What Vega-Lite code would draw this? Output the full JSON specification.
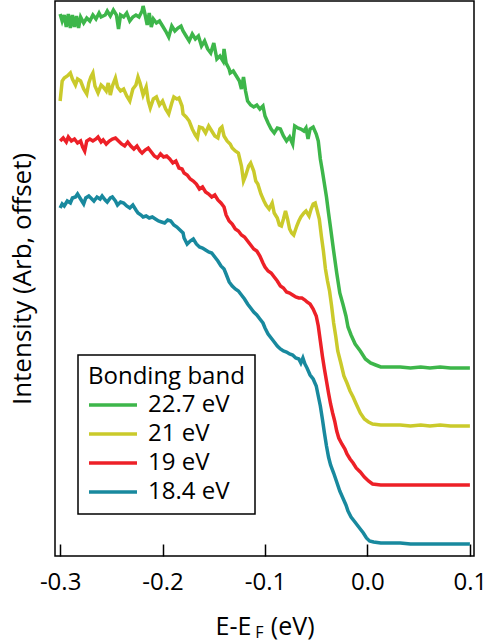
{
"$schema": "https://vega.github.io/schema/vega-lite/v6.json",
"width": 419, "height": 555,
"autosize": {"type": "none"},
"padding": {"left": 55, "top": 1, "right": 11, "bottom": 88},
"config": {"view": {"stroke": "#000", "strokeWidth": 1.5}, "font": "Open Sans"},
"datasets": {
"sub": [{"t": "F", "E": -0.1054, "I": -77}],
"spectra": [
{"band":"22.7 eV","E":-0.300,"I":542},{"band":"22.7 eV","E":-0.298,"I":535},{"band":"22.7 eV","E":-0.296,"I":541},{"band":"22.7 eV","E":-0.294,"I":529},{"band":"22.7 eV","E":-0.292,"I":542},{"band":"22.7 eV","E":-0.290,"I":528},{"band":"22.7 eV","E":-0.288,"I":541},{"band":"22.7 eV","E":-0.286,"I":529},{"band":"22.7 eV","E":-0.284,"I":540},{"band":"22.7 eV","E":-0.282,"I":528},{"band":"22.7 eV","E":-0.280,"I":539},{"band":"22.7 eV","E":-0.277,"I":533},{"band":"22.7 eV","E":-0.274,"I":538},{"band":"22.7 eV","E":-0.271,"I":535},{"band":"22.7 eV","E":-0.268,"I":541},{"band":"22.7 eV","E":-0.265,"I":537},{"band":"22.7 eV","E":-0.262,"I":543},{"band":"22.7 eV","E":-0.260,"I":539},{"band":"22.7 eV","E":-0.256,"I":541},{"band":"22.7 eV","E":-0.254,"I":545},{"band":"22.7 eV","E":-0.251,"I":540},{"band":"22.7 eV","E":-0.248,"I":546},{"band":"22.7 eV","E":-0.245,"I":541},{"band":"22.7 eV","E":-0.243,"I":527},{"band":"22.7 eV","E":-0.241,"I":541},{"band":"22.7 eV","E":-0.238,"I":539},{"band":"22.7 eV","E":-0.235,"I":543},{"band":"22.7 eV","E":-0.232,"I":535},{"band":"22.7 eV","E":-0.229,"I":539},{"band":"22.7 eV","E":-0.226,"I":541},{"band":"22.7 eV","E":-0.223,"I":539},{"band":"22.7 eV","E":-0.220,"I":545},{"band":"22.7 eV","E":-0.219,"I":550},{"band":"22.7 eV","E":-0.217,"I":541},{"band":"22.7 eV","E":-0.215,"I":531},{"band":"22.7 eV","E":-0.213,"I":543},{"band":"22.7 eV","E":-0.211,"I":529},{"band":"22.7 eV","E":-0.209,"I":537},{"band":"22.7 eV","E":-0.206,"I":533},{"band":"22.7 eV","E":-0.203,"I":535},{"band":"22.7 eV","E":-0.200,"I":530},{"band":"22.7 eV","E":-0.197,"I":525},{"band":"22.7 eV","E":-0.194,"I":519},{"band":"22.7 eV","E":-0.191,"I":530},{"band":"22.7 eV","E":-0.188,"I":525},{"band":"22.7 eV","E":-0.185,"I":528},{"band":"22.7 eV","E":-0.182,"I":530},{"band":"22.7 eV","E":-0.180,"I":525},{"band":"22.7 eV","E":-0.177,"I":520},{"band":"22.7 eV","E":-0.174,"I":515},{"band":"22.7 eV","E":-0.171,"I":522},{"band":"22.7 eV","E":-0.168,"I":517},{"band":"22.7 eV","E":-0.165,"I":520},{"band":"22.7 eV","E":-0.162,"I":510},{"band":"22.7 eV","E":-0.159,"I":515},{"band":"22.7 eV","E":-0.156,"I":507},{"band":"22.7 eV","E":-0.153,"I":503},{"band":"22.7 eV","E":-0.150,"I":513},{"band":"22.7 eV","E":-0.147,"I":497},{"band":"22.7 eV","E":-0.144,"I":500},{"band":"22.7 eV","E":-0.141,"I":495},{"band":"22.7 eV","E":-0.140,"I":507},{"band":"22.7 eV","E":-0.138,"I":493},{"band":"22.7 eV","E":-0.135,"I":487},{"band":"22.7 eV","E":-0.134,"I":483},{"band":"22.7 eV","E":-0.131,"I":485},{"band":"22.7 eV","E":-0.128,"I":480},{"band":"22.7 eV","E":-0.125,"I":475},{"band":"22.7 eV","E":-0.123,"I":467},{"band":"22.7 eV","E":-0.121,"I":479},{"band":"22.7 eV","E":-0.119,"I":465},{"band":"22.7 eV","E":-0.117,"I":455},{"band":"22.7 eV","E":-0.114,"I":451},{"band":"22.7 eV","E":-0.111,"I":449},{"band":"22.7 eV","E":-0.108,"I":451},{"band":"22.7 eV","E":-0.105,"I":447},{"band":"22.7 eV","E":-0.102,"I":450},{"band":"22.7 eV","E":-0.100,"I":440},{"band":"22.7 eV","E":-0.097,"I":433},{"band":"22.7 eV","E":-0.094,"I":427},{"band":"22.7 eV","E":-0.091,"I":423},{"band":"22.7 eV","E":-0.088,"I":428},{"band":"22.7 eV","E":-0.085,"I":427},{"band":"22.7 eV","E":-0.082,"I":420},{"band":"22.7 eV","E":-0.079,"I":415},{"band":"22.7 eV","E":-0.076,"I":419},{"band":"22.7 eV","E":-0.073,"I":412},{"band":"22.7 eV","E":-0.071,"I":430},{"band":"22.7 eV","E":-0.068,"I":428},{"band":"22.7 eV","E":-0.065,"I":427},{"band":"22.7 eV","E":-0.062,"I":425},{"band":"22.7 eV","E":-0.060,"I":428},{"band":"22.7 eV","E":-0.058,"I":417},{"band":"22.7 eV","E":-0.056,"I":427},{"band":"22.7 eV","E":-0.053,"I":429},{"band":"22.7 eV","E":-0.050,"I":422},{"band":"22.7 eV","E":-0.048,"I":415},{"band":"22.7 eV","E":-0.046,"I":397},{"band":"22.7 eV","E":-0.044,"I":385},{"band":"22.7 eV","E":-0.042,"I":372},{"band":"22.7 eV","E":-0.040,"I":359},{"band":"22.7 eV","E":-0.038,"I":343},{"band":"22.7 eV","E":-0.036,"I":328},{"band":"22.7 eV","E":-0.033,"I":305},{"band":"22.7 eV","E":-0.030,"I":283},{"band":"22.7 eV","E":-0.027,"I":263},{"band":"22.7 eV","E":-0.024,"I":252},{"band":"22.7 eV","E":-0.021,"I":240},{"band":"22.7 eV","E":-0.019,"I":229},{"band":"22.7 eV","E":-0.016,"I":221},{"band":"22.7 eV","E":-0.012,"I":212},{"band":"22.7 eV","E":-0.007,"I":205},{"band":"22.7 eV","E":-0.002,"I":197},{"band":"22.7 eV","E":0.003,"I":193},{"band":"22.7 eV","E":0.008,"I":191},{"band":"22.7 eV","E":0.013,"I":189},{"band":"22.7 eV","E":0.022,"I":189},{"band":"22.7 eV","E":0.032,"I":189},{"band":"22.7 eV","E":0.042,"I":188},{"band":"22.7 eV","E":0.052,"I":189},{"band":"22.7 eV","E":0.061,"I":188},{"band":"22.7 eV","E":0.071,"I":189},{"band":"22.7 eV","E":0.081,"I":188},{"band":"22.7 eV","E":0.091,"I":188},{"band":"22.7 eV","E":0.100,"I":188},
{"band":"21 eV","E":-0.300,"I":455},{"band":"21 eV","E":-0.298,"I":475},{"band":"21 eV","E":-0.296,"I":478},{"band":"21 eV","E":-0.293,"I":480},{"band":"21 eV","E":-0.290,"I":483},{"band":"21 eV","E":-0.288,"I":477},{"band":"21 eV","E":-0.285,"I":471},{"band":"21 eV","E":-0.283,"I":477},{"band":"21 eV","E":-0.280,"I":475},{"band":"21 eV","E":-0.277,"I":467},{"band":"21 eV","E":-0.274,"I":462},{"band":"21 eV","E":-0.272,"I":473},{"band":"21 eV","E":-0.270,"I":479},{"band":"21 eV","E":-0.268,"I":483},{"band":"21 eV","E":-0.266,"I":470},{"band":"21 eV","E":-0.263,"I":463},{"band":"21 eV","E":-0.260,"I":471},{"band":"21 eV","E":-0.258,"I":469},{"band":"21 eV","E":-0.255,"I":465},{"band":"21 eV","E":-0.253,"I":473},{"band":"21 eV","E":-0.251,"I":461},{"band":"21 eV","E":-0.249,"I":470},{"band":"21 eV","E":-0.246,"I":478},{"band":"21 eV","E":-0.244,"I":469},{"band":"21 eV","E":-0.241,"I":465},{"band":"21 eV","E":-0.238,"I":467},{"band":"21 eV","E":-0.235,"I":460},{"band":"21 eV","E":-0.232,"I":455},{"band":"21 eV","E":-0.229,"I":467},{"band":"21 eV","E":-0.226,"I":471},{"band":"21 eV","E":-0.224,"I":479},{"band":"21 eV","E":-0.222,"I":473},{"band":"21 eV","E":-0.220,"I":465},{"band":"21 eV","E":-0.219,"I":461},{"band":"21 eV","E":-0.216,"I":469},{"band":"21 eV","E":-0.214,"I":455},{"band":"21 eV","E":-0.212,"I":448},{"band":"21 eV","E":-0.209,"I":457},{"band":"21 eV","E":-0.206,"I":459},{"band":"21 eV","E":-0.203,"I":451},{"band":"21 eV","E":-0.200,"I":455},{"band":"21 eV","E":-0.197,"I":447},{"band":"21 eV","E":-0.194,"I":442},{"band":"21 eV","E":-0.191,"I":453},{"band":"21 eV","E":-0.189,"I":459},{"band":"21 eV","E":-0.186,"I":457},{"band":"21 eV","E":-0.184,"I":458},{"band":"21 eV","E":-0.181,"I":450},{"band":"21 eV","E":-0.180,"I":442},{"band":"21 eV","E":-0.177,"I":439},{"band":"21 eV","E":-0.174,"I":435},{"band":"21 eV","E":-0.171,"I":427},{"band":"21 eV","E":-0.168,"I":421},{"band":"21 eV","E":-0.166,"I":418},{"band":"21 eV","E":-0.164,"I":429},{"band":"21 eV","E":-0.161,"I":428},{"band":"21 eV","E":-0.158,"I":423},{"band":"21 eV","E":-0.155,"I":430},{"band":"21 eV","E":-0.152,"I":425},{"band":"21 eV","E":-0.149,"I":420},{"band":"21 eV","E":-0.146,"I":418},{"band":"21 eV","E":-0.144,"I":427},{"band":"21 eV","E":-0.142,"I":429},{"band":"21 eV","E":-0.140,"I":420},{"band":"21 eV","E":-0.137,"I":415},{"band":"21 eV","E":-0.134,"I":412},{"band":"21 eV","E":-0.132,"I":408},{"band":"21 eV","E":-0.129,"I":405},{"band":"21 eV","E":-0.126,"I":403},{"band":"21 eV","E":-0.123,"I":390},{"band":"21 eV","E":-0.121,"I":375},{"band":"21 eV","E":-0.119,"I":380},{"band":"21 eV","E":-0.116,"I":390},{"band":"21 eV","E":-0.114,"I":393},{"band":"21 eV","E":-0.111,"I":385},{"band":"21 eV","E":-0.109,"I":375},{"band":"21 eV","E":-0.107,"I":372},{"band":"21 eV","E":-0.104,"I":362},{"band":"21 eV","E":-0.101,"I":355},{"band":"21 eV","E":-0.099,"I":351},{"band":"21 eV","E":-0.096,"I":347},{"band":"21 eV","E":-0.093,"I":353},{"band":"21 eV","E":-0.091,"I":343},{"band":"21 eV","E":-0.088,"I":338},{"band":"21 eV","E":-0.086,"I":331},{"band":"21 eV","E":-0.084,"I":330},{"band":"21 eV","E":-0.082,"I":337},{"band":"21 eV","E":-0.080,"I":345},{"band":"21 eV","E":-0.078,"I":337},{"band":"21 eV","E":-0.076,"I":327},{"band":"21 eV","E":-0.074,"I":323},{"band":"21 eV","E":-0.072,"I":321},{"band":"21 eV","E":-0.069,"I":330},{"band":"21 eV","E":-0.067,"I":335},{"band":"21 eV","E":-0.065,"I":339},{"band":"21 eV","E":-0.062,"I":343},{"band":"21 eV","E":-0.060,"I":345},{"band":"21 eV","E":-0.057,"I":340},{"band":"21 eV","E":-0.055,"I":347},{"band":"21 eV","E":-0.053,"I":352},{"band":"21 eV","E":-0.051,"I":353},{"band":"21 eV","E":-0.049,"I":345},{"band":"21 eV","E":-0.047,"I":337},{"band":"21 eV","E":-0.045,"I":320},{"band":"21 eV","E":-0.043,"I":305},{"band":"21 eV","E":-0.041,"I":287},{"band":"21 eV","E":-0.039,"I":275},{"band":"21 eV","E":-0.037,"I":265},{"band":"21 eV","E":-0.035,"I":250},{"band":"21 eV","E":-0.033,"I":233},{"band":"21 eV","E":-0.031,"I":220},{"band":"21 eV","E":-0.029,"I":205},{"band":"21 eV","E":-0.026,"I":193},{"band":"21 eV","E":-0.023,"I":180},{"band":"21 eV","E":-0.020,"I":173},{"band":"21 eV","E":-0.017,"I":165},{"band":"21 eV","E":-0.014,"I":159},{"band":"21 eV","E":-0.011,"I":152},{"band":"21 eV","E":-0.007,"I":143},{"band":"21 eV","E":-0.003,"I":137},{"band":"21 eV","E":0.001,"I":134},{"band":"21 eV","E":0.005,"I":132},{"band":"21 eV","E":0.013,"I":131},{"band":"21 eV","E":0.022,"I":131},{"band":"21 eV","E":0.032,"I":131},{"band":"21 eV","E":0.042,"I":130},{"band":"21 eV","E":0.052,"I":131},{"band":"21 eV","E":0.061,"I":130},{"band":"21 eV","E":0.071,"I":131},{"band":"21 eV","E":0.081,"I":130},{"band":"21 eV","E":0.091,"I":130},{"band":"21 eV","E":0.100,"I":130},
{"band":"19 eV","E":-0.300,"I":415},{"band":"19 eV","E":-0.297,"I":418},{"band":"19 eV","E":-0.294,"I":414},{"band":"19 eV","E":-0.292,"I":419},{"band":"19 eV","E":-0.289,"I":415},{"band":"19 eV","E":-0.286,"I":417},{"band":"19 eV","E":-0.283,"I":413},{"band":"19 eV","E":-0.280,"I":415},{"band":"19 eV","E":-0.278,"I":409},{"band":"19 eV","E":-0.276,"I":405},{"band":"19 eV","E":-0.274,"I":415},{"band":"19 eV","E":-0.271,"I":417},{"band":"19 eV","E":-0.268,"I":415},{"band":"19 eV","E":-0.265,"I":417},{"band":"19 eV","E":-0.263,"I":419},{"band":"19 eV","E":-0.260,"I":414},{"band":"19 eV","E":-0.258,"I":416},{"band":"19 eV","E":-0.255,"I":412},{"band":"19 eV","E":-0.252,"I":415},{"band":"19 eV","E":-0.249,"I":417},{"band":"19 eV","E":-0.246,"I":418},{"band":"19 eV","E":-0.243,"I":415},{"band":"19 eV","E":-0.240,"I":412},{"band":"19 eV","E":-0.237,"I":410},{"band":"19 eV","E":-0.234,"I":414},{"band":"19 eV","E":-0.231,"I":410},{"band":"19 eV","E":-0.228,"I":407},{"band":"19 eV","E":-0.225,"I":410},{"band":"19 eV","E":-0.222,"I":405},{"band":"19 eV","E":-0.220,"I":403},{"band":"19 eV","E":-0.217,"I":406},{"band":"19 eV","E":-0.214,"I":408},{"band":"19 eV","E":-0.211,"I":404},{"band":"19 eV","E":-0.208,"I":400},{"band":"19 eV","E":-0.205,"I":398},{"band":"19 eV","E":-0.202,"I":402},{"band":"19 eV","E":-0.199,"I":399},{"band":"19 eV","E":-0.196,"I":400},{"band":"19 eV","E":-0.193,"I":397},{"band":"19 eV","E":-0.190,"I":393},{"band":"19 eV","E":-0.187,"I":395},{"band":"19 eV","E":-0.184,"I":388},{"band":"19 eV","E":-0.181,"I":387},{"band":"19 eV","E":-0.179,"I":383},{"band":"19 eV","E":-0.176,"I":381},{"band":"19 eV","E":-0.173,"I":377},{"band":"19 eV","E":-0.170,"I":375},{"band":"19 eV","E":-0.167,"I":372},{"band":"19 eV","E":-0.164,"I":367},{"band":"19 eV","E":-0.161,"I":369},{"band":"19 eV","E":-0.158,"I":364},{"band":"19 eV","E":-0.155,"I":362},{"band":"19 eV","E":-0.152,"I":359},{"band":"19 eV","E":-0.149,"I":361},{"band":"19 eV","E":-0.146,"I":356},{"band":"19 eV","E":-0.143,"I":353},{"band":"19 eV","E":-0.140,"I":349},{"band":"19 eV","E":-0.138,"I":341},{"band":"19 eV","E":-0.135,"I":335},{"band":"19 eV","E":-0.132,"I":332},{"band":"19 eV","E":-0.129,"I":327},{"band":"19 eV","E":-0.126,"I":325},{"band":"19 eV","E":-0.123,"I":321},{"band":"19 eV","E":-0.120,"I":319},{"band":"19 eV","E":-0.117,"I":315},{"band":"19 eV","E":-0.114,"I":311},{"band":"19 eV","E":-0.111,"I":307},{"band":"19 eV","E":-0.108,"I":305},{"band":"19 eV","E":-0.105,"I":300},{"band":"19 eV","E":-0.102,"I":293},{"band":"19 eV","E":-0.100,"I":289},{"band":"19 eV","E":-0.097,"I":285},{"band":"19 eV","E":-0.094,"I":283},{"band":"19 eV","E":-0.091,"I":279},{"band":"19 eV","E":-0.088,"I":275},{"band":"19 eV","E":-0.085,"I":270},{"band":"19 eV","E":-0.082,"I":268},{"band":"19 eV","E":-0.079,"I":264},{"band":"19 eV","E":-0.076,"I":263},{"band":"19 eV","E":-0.073,"I":261},{"band":"19 eV","E":-0.070,"I":259},{"band":"19 eV","E":-0.067,"I":258},{"band":"19 eV","E":-0.064,"I":258},{"band":"19 eV","E":-0.061,"I":256},{"band":"19 eV","E":-0.059,"I":254},{"band":"19 eV","E":-0.056,"I":252},{"band":"19 eV","E":-0.053,"I":247},{"band":"19 eV","E":-0.050,"I":240},{"band":"19 eV","E":-0.048,"I":230},{"band":"19 eV","E":-0.046,"I":215},{"band":"19 eV","E":-0.044,"I":200},{"band":"19 eV","E":-0.042,"I":187},{"band":"19 eV","E":-0.040,"I":175},{"band":"19 eV","E":-0.038,"I":163},{"band":"19 eV","E":-0.036,"I":152},{"band":"19 eV","E":-0.034,"I":143},{"band":"19 eV","E":-0.032,"I":135},{"band":"19 eV","E":-0.030,"I":125},{"band":"19 eV","E":-0.028,"I":118},{"band":"19 eV","E":-0.025,"I":112},{"band":"19 eV","E":-0.022,"I":107},{"band":"19 eV","E":-0.020,"I":102},{"band":"19 eV","E":-0.017,"I":97},{"band":"19 eV","E":-0.014,"I":93},{"band":"19 eV","E":-0.011,"I":88},{"band":"19 eV","E":-0.007,"I":84},{"band":"19 eV","E":-0.003,"I":79},{"band":"19 eV","E":0.001,"I":75},{"band":"19 eV","E":0.005,"I":72},{"band":"19 eV","E":0.013,"I":71},{"band":"19 eV","E":0.022,"I":71},{"band":"19 eV","E":0.032,"I":71},{"band":"19 eV","E":0.042,"I":71},{"band":"19 eV","E":0.052,"I":71},{"band":"19 eV","E":0.061,"I":71},{"band":"19 eV","E":0.071,"I":71},{"band":"19 eV","E":0.081,"I":71},{"band":"19 eV","E":0.091,"I":71},{"band":"19 eV","E":0.100,"I":71},
{"band":"18.4 eV","E":-0.300,"I":348},{"band":"18.4 eV","E":-0.298,"I":352},{"band":"18.4 eV","E":-0.296,"I":350},{"band":"18.4 eV","E":-0.293,"I":355},{"band":"18.4 eV","E":-0.290,"I":353},{"band":"18.4 eV","E":-0.288,"I":358},{"band":"18.4 eV","E":-0.285,"I":359},{"band":"18.4 eV","E":-0.283,"I":362},{"band":"18.4 eV","E":-0.280,"I":357},{"band":"18.4 eV","E":-0.277,"I":352},{"band":"18.4 eV","E":-0.275,"I":358},{"band":"18.4 eV","E":-0.272,"I":360},{"band":"18.4 eV","E":-0.270,"I":358},{"band":"18.4 eV","E":-0.267,"I":355},{"band":"18.4 eV","E":-0.264,"I":359},{"band":"18.4 eV","E":-0.261,"I":357},{"band":"18.4 eV","E":-0.259,"I":360},{"band":"18.4 eV","E":-0.256,"I":356},{"band":"18.4 eV","E":-0.254,"I":354},{"band":"18.4 eV","E":-0.251,"I":358},{"band":"18.4 eV","E":-0.249,"I":359},{"band":"18.4 eV","E":-0.246,"I":355},{"band":"18.4 eV","E":-0.244,"I":351},{"band":"18.4 eV","E":-0.241,"I":354},{"band":"18.4 eV","E":-0.238,"I":353},{"band":"18.4 eV","E":-0.235,"I":350},{"band":"18.4 eV","E":-0.232,"I":348},{"band":"18.4 eV","E":-0.229,"I":351},{"band":"18.4 eV","E":-0.226,"I":346},{"band":"18.4 eV","E":-0.224,"I":343},{"band":"18.4 eV","E":-0.221,"I":341},{"band":"18.4 eV","E":-0.219,"I":339},{"band":"18.4 eV","E":-0.216,"I":340},{"band":"18.4 eV","E":-0.213,"I":338},{"band":"18.4 eV","E":-0.210,"I":339},{"band":"18.4 eV","E":-0.207,"I":337},{"band":"18.4 eV","E":-0.204,"I":335},{"band":"18.4 eV","E":-0.201,"I":334},{"band":"18.4 eV","E":-0.198,"I":333},{"band":"18.4 eV","E":-0.195,"I":336},{"band":"18.4 eV","E":-0.192,"I":335},{"band":"18.4 eV","E":-0.189,"I":331},{"band":"18.4 eV","E":-0.186,"I":329},{"band":"18.4 eV","E":-0.183,"I":326},{"band":"18.4 eV","E":-0.180,"I":323},{"band":"18.4 eV","E":-0.179,"I":318},{"band":"18.4 eV","E":-0.176,"I":312},{"band":"18.4 eV","E":-0.173,"I":315},{"band":"18.4 eV","E":-0.170,"I":317},{"band":"18.4 eV","E":-0.167,"I":312},{"band":"18.4 eV","E":-0.164,"I":309},{"band":"18.4 eV","E":-0.161,"I":308},{"band":"18.4 eV","E":-0.158,"I":306},{"band":"18.4 eV","E":-0.155,"I":304},{"band":"18.4 eV","E":-0.152,"I":303},{"band":"18.4 eV","E":-0.149,"I":299},{"band":"18.4 eV","E":-0.146,"I":295},{"band":"18.4 eV","E":-0.143,"I":290},{"band":"18.4 eV","E":-0.140,"I":287},{"band":"18.4 eV","E":-0.138,"I":282},{"band":"18.4 eV","E":-0.135,"I":274},{"band":"18.4 eV","E":-0.132,"I":270},{"band":"18.4 eV","E":-0.129,"I":267},{"band":"18.4 eV","E":-0.126,"I":265},{"band":"18.4 eV","E":-0.123,"I":261},{"band":"18.4 eV","E":-0.120,"I":257},{"band":"18.4 eV","E":-0.117,"I":252},{"band":"18.4 eV","E":-0.114,"I":248},{"band":"18.4 eV","E":-0.111,"I":244},{"band":"18.4 eV","E":-0.108,"I":241},{"band":"18.4 eV","E":-0.105,"I":237},{"band":"18.4 eV","E":-0.102,"I":233},{"band":"18.4 eV","E":-0.100,"I":228},{"band":"18.4 eV","E":-0.097,"I":222},{"band":"18.4 eV","E":-0.094,"I":218},{"band":"18.4 eV","E":-0.091,"I":214},{"band":"18.4 eV","E":-0.088,"I":210},{"band":"18.4 eV","E":-0.085,"I":207},{"band":"18.4 eV","E":-0.082,"I":205},{"band":"18.4 eV","E":-0.079,"I":204},{"band":"18.4 eV","E":-0.076,"I":202},{"band":"18.4 eV","E":-0.073,"I":201},{"band":"18.4 eV","E":-0.070,"I":198},{"band":"18.4 eV","E":-0.067,"I":197},{"band":"18.4 eV","E":-0.065,"I":193},{"band":"18.4 eV","E":-0.063,"I":198},{"band":"18.4 eV","E":-0.061,"I":192},{"band":"18.4 eV","E":-0.059,"I":188},{"band":"18.4 eV","E":-0.056,"I":181},{"band":"18.4 eV","E":-0.053,"I":177},{"band":"18.4 eV","E":-0.050,"I":170},{"band":"18.4 eV","E":-0.048,"I":160},{"band":"18.4 eV","E":-0.046,"I":150},{"band":"18.4 eV","E":-0.044,"I":137},{"band":"18.4 eV","E":-0.042,"I":123},{"band":"18.4 eV","E":-0.040,"I":110},{"band":"18.4 eV","E":-0.038,"I":99},{"band":"18.4 eV","E":-0.036,"I":91},{"band":"18.4 eV","E":-0.033,"I":83},{"band":"18.4 eV","E":-0.030,"I":74},{"band":"18.4 eV","E":-0.027,"I":65},{"band":"18.4 eV","E":-0.024,"I":58},{"band":"18.4 eV","E":-0.021,"I":51},{"band":"18.4 eV","E":-0.019,"I":45},{"band":"18.4 eV","E":-0.016,"I":39},{"band":"18.4 eV","E":-0.013,"I":35},{"band":"18.4 eV","E":-0.010,"I":31},{"band":"18.4 eV","E":-0.007,"I":27},{"band":"18.4 eV","E":-0.004,"I":23},{"band":"18.4 eV","E":-0.001,"I":18},{"band":"18.4 eV","E":0.002,"I":15},{"band":"18.4 eV","E":0.006,"I":14},{"band":"18.4 eV","E":0.013,"I":13},{"band":"18.4 eV","E":0.022,"I":13},{"band":"18.4 eV","E":0.032,"I":13},{"band":"18.4 eV","E":0.042,"I":12},{"band":"18.4 eV","E":0.052,"I":12},{"band":"18.4 eV","E":0.061,"I":12},{"band":"18.4 eV","E":0.071,"I":12},{"band":"18.4 eV","E":0.081,"I":12},{"band":"18.4 eV","E":0.091,"I":12},{"band":"18.4 eV","E":0.100,"I":12}
]
},
"layer": [
{
"data": {"name": "spectra"},
"mark": {"type": "line", "strokeWidth": 3.5},
"encoding": {
"x": {"field": "E", "type": "quantitative",
 "scale": {"domain": [-0.305, 0.104], "nice": false, "zero": false},
 "axis": {"values": [-0.3, -0.2, -0.1, 0, 0.1], "labelExpr": "replace(format(datum.value, '.1f'), '\u2212', '-')",
  "grid": false, "domain": false, "tickSize": -12, "tickColor": "#000", "tickWidth": 1.5,
  "labelFontSize": 24, "labelColor": "#000", "labelPadding": 26, "labelFlush": false,
  "title": "E-E\u00a0\u00a0\u00a0(eV)", "titleFontSize": 25, "titleFontWeight": "normal", "titleColor": "#000", "titlePadding": 20}},
"y": {"field": "I", "type": "quantitative",
 "scale": {"domain": [0, 555], "nice": false},
 "axis": {"labels": false, "ticks": false, "domain": false, "grid": false,
  "title": "Intensity (Arb, offset)", "titleFontSize": 26, "titleFontWeight": "normal", "titleColor": "#000", "titlePadding": 20}},
"color": {"field": "band", "type": "nominal",
 "scale": {"domain": ["22.7 eV", "21 eV", "19 eV", "18.4 eV"], "range": ["#3DB64A", "#CACA2B", "#ED2027", "#18899E"]},
 "legend": {"title": "Bonding band", "orient": "none", "legendX": 23, "legendY": 354,
  "titleFontSize": 24, "titleFontWeight": "normal", "titleColor": "#000", "titlePadding": 4,
  "labelFontSize": 24, "labelColor": "#000", "labelOffset": 36, "labelLimit": 300,
  "symbolType": "M-1.375,0H4.625", "symbolSize": 256, "symbolStrokeWidth": 3.5, "rowPadding": 5,
  "padding": 10, "strokeColor": "#000", "fillColor": "#fff",
  "encode": {"legend": {"update": {"strokeWidth": {"value": 1.5}}}}}},
"order": {"field": "E", "type": "quantitative"}
}
},
{
"data": {"name": "sub"},
"mark": {"type": "text", "fontSize": 16, "color": "#000"},
"encoding": {
"x": {"field": "E", "type": "quantitative"},
"y": {"field": "I", "type": "quantitative"},
"text": {"field": "t"}
}
}
]
}
